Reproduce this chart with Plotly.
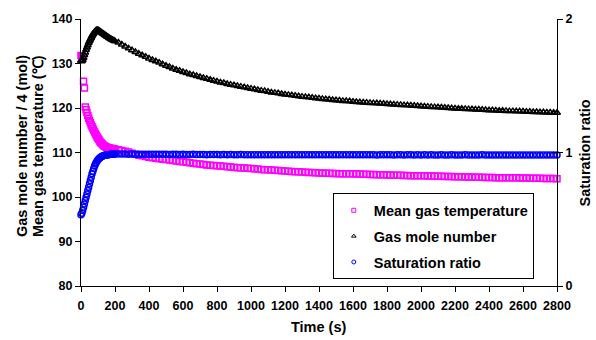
import plotly.graph_objects as go

# Sampling times (s): every 5 s during the first 200 s, then every 20 s
time_early = list(range(0, 201, 5))
time_late = list(range(220, 2801, 20))
time_s = time_early + time_late

# Mean gas temperature (deg C)
temp_c = [
    131.8, 131.7, 131.5, 126.0, 124.5, 120.2, 119.6, 119.0, 118.3, 117.7,
    117.2, 116.7, 116.2, 115.8, 115.4, 115.0, 114.6, 114.2, 113.8, 113.5,
    113.2, 112.9, 112.6, 112.3, 112.1, 111.9, 111.7, 111.5, 111.4, 111.3,
    111.2, 111.1, 111.05, 111.0, 110.95, 110.9, 110.9, 110.85, 110.8, 110.8,
    110.75,
    110.6, 110.45, 110.3, 110.1, 109.85, 109.6, 109.4, 109.25, 109.1, 108.95,
    108.8, 108.7, 108.6, 108.5, 108.4, 108.3, 108.2, 108.1, 108.0, 107.9,
    107.8, 107.7, 107.6, 107.5, 107.4, 107.3, 107.2, 107.15, 107.1, 107.0,
    106.95, 106.9, 106.8, 106.75, 106.7, 106.6, 106.55, 106.5, 106.45, 106.4,
    106.35, 106.3, 106.2, 106.15, 106.1, 106.05, 106.0, 105.95, 105.9, 105.85,
    105.8, 105.75, 105.7, 105.65, 105.6, 105.55, 105.5, 105.5, 105.45, 105.4,
    105.4, 105.35, 105.35, 105.3, 105.3, 105.25, 105.25, 105.2, 105.2, 105.2,
    105.15, 105.15, 105.1, 105.1, 105.05, 105.05, 105.0, 105.0, 105.0, 104.95,
    104.95, 104.9, 104.9, 104.9, 104.85, 104.85, 104.8, 104.8, 104.8, 104.75,
    104.75, 104.7, 104.7, 104.7, 104.65, 104.65, 104.6, 104.6, 104.6, 104.55,
    104.55, 104.55, 104.5, 104.5, 104.5, 104.45, 104.45, 104.45, 104.4, 104.4,
    104.4, 104.35, 104.35, 104.35, 104.3, 104.3, 104.3, 104.3, 104.25, 104.25,
    104.25, 104.2, 104.2, 104.2, 104.2, 104.15, 104.15, 104.15, 104.15, 104.1,
]

# Gas mole number divided by 4 (mol)
moles_q = [
    130.6, 130.5, 130.8, 131.3, 131.9, 132.5, 133.1, 133.6, 134.1, 134.6,
    135.0, 135.4, 135.8, 136.2, 136.5, 136.8, 137.1, 137.3, 137.45, 137.55,
    137.5, 137.4, 137.25, 137.1, 136.95, 136.8, 136.7, 136.55, 136.4, 136.3,
    136.15, 136.0, 135.9, 135.75, 135.65, 135.5, 135.4, 135.3, 135.2, 135.1,
    135.0,
    134.7, 134.25, 133.8, 133.4, 133.0, 132.6, 132.2, 131.85, 131.5, 131.15,
    130.8, 130.5, 130.2, 129.85, 129.5, 129.2, 128.9, 128.6, 128.35, 128.1,
    127.85, 127.6, 127.4, 127.2, 126.95, 126.75, 126.55, 126.35, 126.15, 125.95,
    125.75, 125.6, 125.4, 125.25, 125.1, 124.95, 124.8, 124.65, 124.5, 124.35,
    124.2, 124.05, 123.9, 123.8, 123.65, 123.5, 123.4, 123.3, 123.15, 123.05,
    122.95, 122.85, 122.75, 122.65, 122.55, 122.45, 122.4, 122.3, 122.2, 122.15,
    122.05, 121.95, 121.9, 121.8, 121.75, 121.7, 121.6, 121.55, 121.5, 121.4,
    121.35, 121.3, 121.25, 121.2, 121.15, 121.1, 121.05, 121.0, 120.95, 120.9,
    120.85, 120.8, 120.75, 120.7, 120.65, 120.6, 120.55, 120.5, 120.45, 120.4,
    120.35, 120.3, 120.25, 120.2, 120.15, 120.1, 120.05, 120.0, 119.95, 119.9,
    119.85, 119.85, 119.8, 119.75, 119.7, 119.65, 119.65, 119.6, 119.55, 119.5,
    119.5, 119.45, 119.4, 119.4, 119.35, 119.3, 119.3, 119.25, 119.25, 119.2,
    119.15, 119.15, 119.1, 119.1, 119.05, 119.05, 119.0, 119.0, 118.95, 118.95,
]

# Saturation ratio (secondary axis)
sat_ratio = [
    0.533, 0.545, 0.565, 0.590, 0.615, 0.640, 0.665, 0.690, 0.715, 0.740,
    0.765, 0.790, 0.815, 0.840, 0.860, 0.880, 0.898, 0.913, 0.926, 0.937,
    0.946, 0.953, 0.959, 0.964, 0.968, 0.972, 0.975, 0.977, 0.979, 0.981,
    0.982, 0.983, 0.984, 0.985, 0.985, 0.986, 0.986, 0.987, 0.987, 0.987,
    0.988,
    0.988, 0.988, 0.988, 0.987, 0.988, 0.987, 0.987, 0.987, 0.986, 0.987,
    0.986, 0.987, 0.986, 0.986, 0.986, 0.985, 0.986, 0.986, 0.985, 0.986,
    0.985, 0.985, 0.986, 0.985, 0.985, 0.985, 0.984, 0.985, 0.985, 0.985,
    0.984, 0.985, 0.984, 0.985, 0.984, 0.984, 0.985, 0.984, 0.984, 0.984,
    0.984, 0.984, 0.983, 0.984, 0.984, 0.984, 0.983, 0.984, 0.984, 0.983,
    0.984, 0.983, 0.984, 0.983, 0.983, 0.984, 0.983, 0.983, 0.984, 0.983,
    0.983, 0.983, 0.984, 0.983, 0.983, 0.983, 0.984, 0.983, 0.983, 0.983,
    0.983, 0.984, 0.983, 0.983, 0.983, 0.983, 0.982, 0.983, 0.983, 0.983,
    0.983, 0.982, 0.983, 0.983, 0.982, 0.983, 0.983, 0.982, 0.983, 0.982,
    0.983, 0.982, 0.983, 0.982, 0.982, 0.983, 0.982, 0.982, 0.983, 0.982,
    0.982, 0.982, 0.983, 0.982, 0.982, 0.982, 0.982, 0.983, 0.982, 0.982,
    0.982, 0.982, 0.982, 0.981, 0.982, 0.982, 0.982, 0.982, 0.981, 0.982,
    0.982, 0.981, 0.982, 0.982, 0.981, 0.982, 0.981, 0.982, 0.981, 0.981,
]

series_names = ["Mean gas temperature", "Gas mole number", "Saturation ratio"]
series_colors = ["#FF00FF", "#000000", "#0000FF"]
series_symbols = ["square-open", "triangle-up-open", "circle-open"]

x_ticks = list(range(0, 2801, 200))
left_ticks = [80, 90, 100, 110, 120, 130, 140]
right_ticks = [0, 1, 2]

assert len(time_s) == len(temp_c) == len(moles_q) == len(sat_ratio)

FONT = "Liberation Sans, Arial, sans-serif"
tick_font = dict(family=FONT, size=12.5, color="#000000", weight="bold")
title_font = dict(family=FONT, size=14.5, color="#000000", weight="bold")

fig = go.Figure()

series_y = [temp_c, moles_q, sat_ratio]
series_axis = ["y", "y", "y2"]
for name, yv, ax, col, sym in zip(series_names, series_y, series_axis,
                                  series_colors, series_symbols):
    fig.add_trace(go.Scatter(
        x=time_s, y=yv, mode="markers", name=name, yaxis=ax,
        cliponaxis=False, showlegend=False,
        marker=dict(symbol=sym, size=6, color=col,
                    line=dict(width=1.5, color=col)),
    ))

# legend entries with small symbols
for i, (name, col, sym) in enumerate(zip(series_names, series_colors,
                                         series_symbols)):
    fig.add_trace(go.Scatter(
        x=[None], y=[None], mode="markers", name=name,
        legendgroup=f"g{i}", showlegend=True, hoverinfo="skip",
        marker=dict(symbol=sym, size=4, color=col,
                    line=dict(width=1, color=col)),
    ))

# helper trace so the inner tick marks of the right axis get drawn
fig.add_trace(go.Scatter(x=[None], y=[None], yaxis="y3", showlegend=False,
                         hoverinfo="skip"))

# axis titles placed as annotations (paper coordinates)
annotations = [
    dict(text="Time (s)", x=0.5, y=-0.155, xref="paper", yref="paper",
         xanchor="center", yanchor="middle", showarrow=False, font=title_font),
    dict(text="Gas mole number / 4 (mol)", x=-0.124, y=0.524,
         xref="paper", yref="paper", xanchor="center", yanchor="middle",
         textangle=-90, showarrow=False, font=title_font),
    dict(text="Mean gas temperature (\u2103)", x=-0.0903, y=0.524,
         xref="paper", yref="paper", xanchor="center", yanchor="middle",
         textangle=-90, showarrow=False, font=title_font),
    dict(text="Saturation ratio", x=1.0588, y=0.5,
         xref="paper", yref="paper", xanchor="center", yanchor="middle",
         textangle=-90, showarrow=False, font=title_font),
]

fig.update_layout(
    width=596, height=340,
    margin=dict(l=81, r=39, t=15, b=54),
    paper_bgcolor="white", plot_bgcolor="white",
    font=dict(family=FONT, size=12, color="#000000"),
    showlegend=True,
    annotations=annotations,
    legend=dict(
        x=0.529, y=0.347, xanchor="left", yanchor="top",
        bgcolor="white", bordercolor="#000000", borderwidth=1,
        font=title_font, tracegroupgap=4, itemwidth=30,
    ),
    xaxis=dict(
        range=[0, 2800], tickvals=x_ticks, ticks="outside", ticklen=5,
        tickcolor="#000000", showline=True, linecolor="#000000", linewidth=1,
        showgrid=False, zeroline=False, tickfont=tick_font,
        ticklabelstandoff=3,
    ),
    yaxis=dict(
        range=[80, 140], tickvals=left_ticks, ticks="outside", ticklen=5,
        tickcolor="#000000", showline=True, linecolor="#000000", linewidth=1,
        showgrid=False, zeroline=False, tickfont=tick_font,
    ),
    yaxis2=dict(
        range=[0, 2], tickvals=right_ticks, overlaying="y", side="right",
        ticks="outside", ticklen=5, tickcolor="#000000",
        showline=True, linecolor="#000000", linewidth=1,
        showgrid=False, zeroline=False, tickfont=tick_font,
    ),
    yaxis3=dict(
        range=[0, 2], tickvals=right_ticks, overlaying="y", side="right",
        ticks="inside", ticklen=5, tickcolor="#000000",
        showticklabels=False, showline=False, showgrid=False, zeroline=False,
    ),
)

fig.write_html("out.html")
